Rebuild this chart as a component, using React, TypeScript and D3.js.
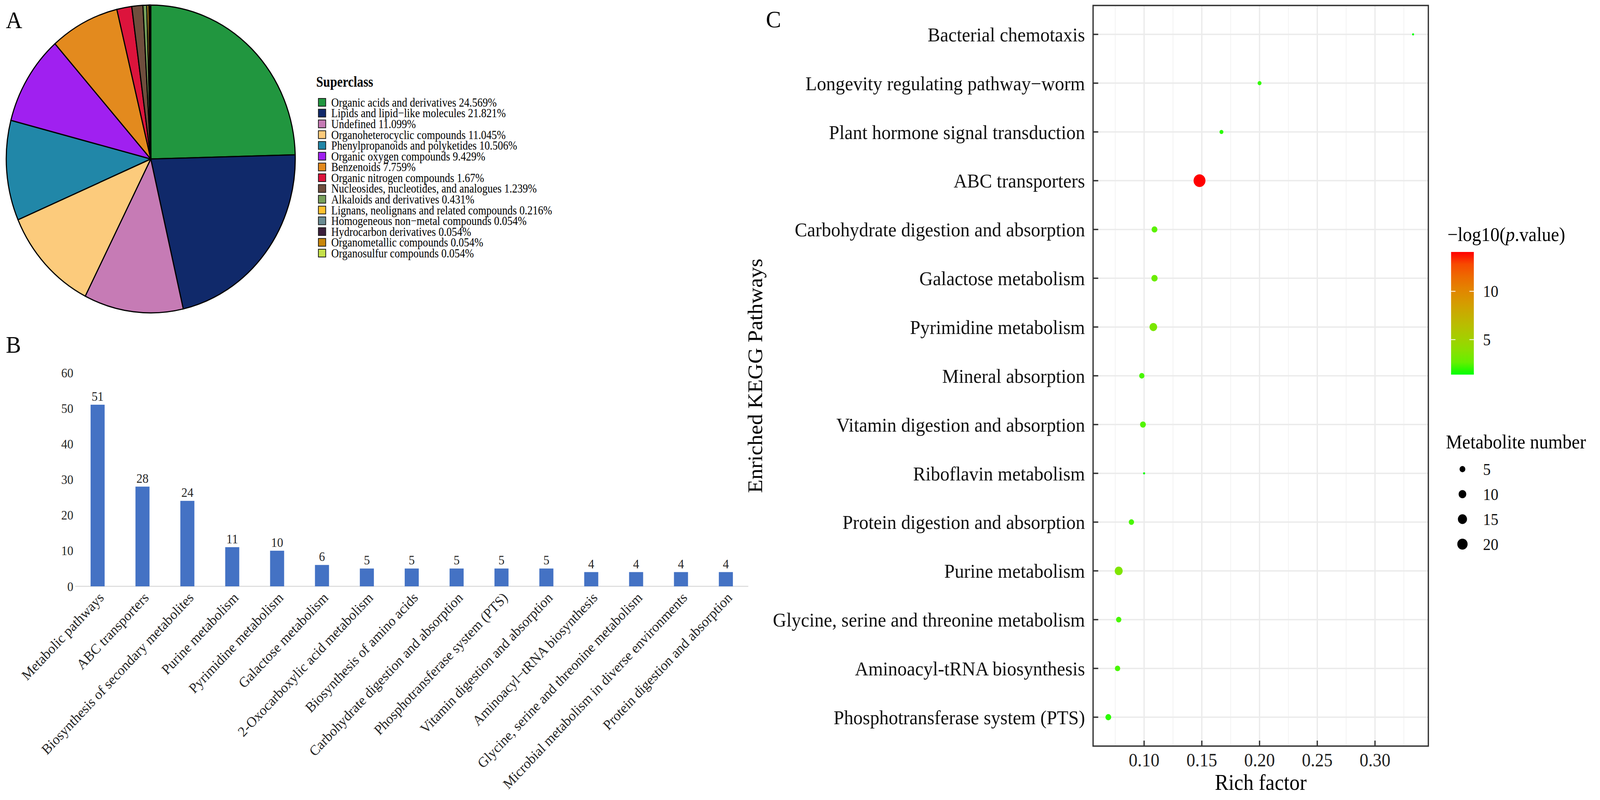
import React from 'react';
import * as d3 from 'd3';

const W = 4362;
const H = 2048;
const FONT = '"Liberation Serif", "Times New Roman", serif';

// ---- Panel A: superclass pie ----
const superclassNames = [
  'Organic acids and derivatives',
  'Lipids and lipid\u2212like molecules',
  'Undefined',
  'Organoheterocyclic compounds',
  'Phenylpropanoids and polyketides',
  'Organic oxygen compounds',
  'Benzenoids',
  'Organic nitrogen compounds',
  'Nucleosides, nucleotides, and analogues',
  'Alkaloids and derivatives',
  'Lignans, neolignans and related compounds',
  'Homogeneous non\u2212metal compounds',
  'Hydrocarbon derivatives',
  'Organometallic compounds',
  'Organosulfur compounds',
];
const superclassPct = [24.569, 21.821, 11.099, 11.045, 10.506, 9.429, 7.759, 1.67, 1.239, 0.431, 0.216, 0.054, 0.054, 0.054, 0.054];
const superclassColors = [
  '#21963F', '#10296A', '#C67BB5', '#FCCB7C', '#2187A8', '#A020F0', '#E38A1E', '#DC143C',
  '#6F4E3D', '#78A05A', '#FFC12E', '#6A8C93', '#3B1F3B', '#C8860A', '#C5E04A',
];

// ---- Panel B: KEGG pathway counts ----
const barPathways = [
  'Metabolic pathways',
  'ABC transporters',
  'Biosynthesis of secondary metabolites',
  'Purine metabolism',
  'Pyrimidine metabolism',
  'Galactose metabolism',
  '2-Oxocarboxylic acid metabolism',
  'Biosynthesis of amino acids',
  'Carbohydrate digestion and absorption',
  'Phosphotransferase system (PTS)',
  'Vitamin digestion and absorption',
  'Aminoacyl\u2212tRNA biosynthesis',
  'Glycine, serine and threonine metabolism',
  'Microbial metabolism in diverse environments',
  'Protein digestion and absorption',
];
const barCounts = [51, 28, 24, 11, 10, 6, 5, 5, 5, 5, 5, 4, 4, 4, 4];
const barTicks = [0, 10, 20, 30, 40, 50, 60];

// ---- Panel C: enrichment bubble plot (top to bottom) ----
const keggPathways = [
  'Bacterial chemotaxis',
  'Longevity regulating pathway\u2212worm',
  'Plant hormone signal transduction',
  'ABC transporters',
  'Carbohydrate digestion and absorption',
  'Galactose metabolism',
  'Pyrimidine metabolism',
  'Mineral absorption',
  'Vitamin digestion and absorption',
  'Riboflavin metabolism',
  'Protein digestion and absorption',
  'Purine metabolism',
  'Glycine, serine and threonine metabolism',
  'Aminoacyl-tRNA biosynthesis',
  'Phosphotransferase system (PTS)',
];
const richFactor = [0.333, 0.2, 0.167, 0.148, 0.109, 0.109, 0.108, 0.098, 0.099, 0.1, 0.089, 0.078, 0.078, 0.077, 0.069];
const metaboliteNumber = [1, 2, 2, 28, 5, 6, 10, 4, 5, 1, 4, 11, 4, 4, 5];
const negLog10P = [1.38, 1.7, 1.6, 14.07, 2.4, 2.8, 3.3, 2.0, 2.2, 1.4, 2.0, 3.5, 2.0, 2.0, 1.6];
const richTicks = [0.1, 0.15, 0.2, 0.25, 0.3];
const richMinorTicks = [0.075, 0.125, 0.175, 0.225, 0.275, 0.325];
const colorTicks = [5, 10];
const sizeTicks = [5, 10, 15, 20];

const PieLegend: React.FC = () => {
  const cx = 411, cy = 407, r = 394;
  const arcs = d3.pie<number>().sort(null).value(d => d)(superclassPct);
  const arc = d3.arc<d3.PieArcDatum<number>>().innerRadius(0).outerRadius(r);
  const rowY = d3.scalePoint<string>().domain(superclassNames).range([262, 648]);
  return (
    <g fontFamily={FONT}>
      <text x={16} y={72} fontSize={62}>A</text>
      <g transform={`translate(${cx},${cy})`}>
        {arcs.map((a, i) => (
          <path key={i} d={arc(a) || ''} fill={superclassColors[i]} stroke="#000" strokeWidth={3} strokeLinejoin="round" />
        ))}
      </g>
      <text transform="translate(862,222) scale(0.9,1)" fontSize={38} fontWeight="bold">Superclass</text>
      {superclassNames.map((name, i) => {
        const y = rowY(name) as number;
        return (
          <g key={name}>
            <rect x={868} y={y - 10} width={20} height={20} fill={superclassColors[i]} stroke="#1a1a1a" strokeWidth={2} />
            <text transform={`translate(903,${y}) scale(0.9,1)`} dy="0.34em" fontSize={32}>
              {`${name} ${superclassPct[i]}%`}
            </text>
          </g>
        );
      })}
    </g>
  );
};

const BarPanel: React.FC = () => {
  const x = d3.scaleBand<string>().domain(barPathways).range([205, 2040]).paddingInner(0.687).paddingOuter(0.343);
  const y = d3.scaleLinear().domain([0, 60]).range([1501, 954]);
  const fs = 33;
  return (
    <g fontFamily={FONT}>
      <text x={16} y={903} fontSize={62}>B</text>
      {barTicks.map(t => (
        <text key={t} x={200} y={y(t)} dy="0.35em" textAnchor="end" fontSize={fs} fill="#262626">{t}</text>
      ))}
      <line x1={205} x2={2040} y1={y(0)} y2={y(0)} stroke="#D9D9D9" strokeWidth={2.5} />
      {barPathways.map((p, i) => {
        const bx = x(p) as number;
        const cxm = bx + x.bandwidth() / 2;
        return (
          <g key={p}>
            <rect x={bx} y={y(barCounts[i])} width={x.bandwidth()} height={y(0) - y(barCounts[i])} fill="#4472C4" />
            <text x={cxm} y={y(barCounts[i]) - 10} textAnchor="middle" fontSize={fs} fill="#262626">{barCounts[i]}</text>
            <text
              transform={`translate(${cxm + 10},${y(0) + 22}) rotate(-45)`}
              textAnchor="end"
              dy="0.35em"
              fontSize={37}
              fill="#262626"
            >
              {p}
            </text>
          </g>
        );
      })}
    </g>
  );
};

const BubblePanel: React.FC = () => {
  const left = 2980, right = 3894, top = 14, bottom = 1910;
  const [rMin, rMax] = d3.extent(richFactor) as [number, number];
  const pad = (rMax - rMin) * 0.05;
  const x = d3.scaleLinear().domain([rMin - pad, rMax + pad]).range([left, right]);
  const y = d3.scalePoint<string>().domain(keggPathways).range([88, 1836]);
  const [nMin, nMax] = d3.extent(metaboliteNumber) as [number, number];
  const norm = d3.scaleLinear().domain([nMin, nMax]).range([0, 1]);
  const radius = d3.scaleLinear().domain([0, 1]).range([2.7, 16.2]);
  const rOf = (n: number) => radius(Math.sqrt(Math.max(0, norm(n))));
  const cExt = d3.extent(negLog10P) as [number, number];
  const color = d3.scaleLinear<string>().domain(cExt).range(['#00FF00', '#FF0000']).interpolate(d3.interpolateLab);

  // colour bar
  const cbX = 3956, cbW = 62, cbTop = 645, cbBottom = 959;
  const cbY = d3.scaleLinear().domain(cExt).range([cbBottom, cbTop]);
  const stops = d3.range(0, 1.0001, 0.1);

  // size legend
  const sizeY = d3.scalePoint<string>().domain(sizeTicks.map(String)).range([1201, 1393]);

  const order = d3.range(keggPathways.length).sort((a, b) => metaboliteNumber[b] - metaboliteNumber[a]);

  return (
    <g fontFamily={FONT}>
      <text x={2088} y={70} fontSize={62}>C</text>
      <defs>
        <linearGradient id="cbGrad" x1={0} y1={1} x2={0} y2={0}>
          {stops.map(s => (
            <stop key={s} offset={`${s * 100}%`} stopColor={color(cExt[0] + s * (cExt[1] - cExt[0]))} />
          ))}
        </linearGradient>
      </defs>
      <rect x={left} y={top} width={right - left} height={bottom - top} fill="#fff" />
      {richMinorTicks.map(t => (
        <line key={t} x1={x(t)} x2={x(t)} y1={top} y2={bottom} stroke="#F2F2F2" strokeWidth={2} />
      ))}
      {richTicks.map(t => (
        <line key={t} x1={x(t)} x2={x(t)} y1={top} y2={bottom} stroke="#EBEBEB" strokeWidth={3.5} />
      ))}
      {keggPathways.map(p => (
        <line key={p} x1={left} x2={right} y1={y(p)} y2={y(p)} stroke="#EBEBEB" strokeWidth={3.5} />
      ))}
      {order.map(i => (
        <circle key={i} cx={x(richFactor[i])} cy={y(keggPathways[i])} r={rOf(metaboliteNumber[i])} fill={color(negLog10P[i])} />
      ))}
      <rect x={left} y={top} width={right - left} height={bottom - top} fill="none" stroke="#333" strokeWidth={3.5} />
      {keggPathways.map(p => (
        <g key={p}>
          <line x1={left} x2={left + 14} y1={y(p)} y2={y(p)} stroke="#333" strokeWidth={3.5} />
          <text x={left - 22} y={y(p)} dy="0.35em" textAnchor="end" fontSize={51} fill="#111">{p}</text>
        </g>
      ))}
      {richTicks.map(t => (
        <g key={t}>
          <line x1={x(t)} x2={x(t)} y1={bottom} y2={bottom - 14} stroke="#333" strokeWidth={3.5} />
          <text x={x(t)} y={bottom + 52} textAnchor="middle" fontSize={48} fill="#222">{t.toFixed(2)}</text>
        </g>
      ))}
      <text x={(left + right) / 2} y={2022} textAnchor="middle" fontSize={56}>Rich factor</text>
      <text transform={`translate(2078,${(top + bottom) / 2}) rotate(-90)`} textAnchor="middle" fontSize={56}>
        Enriched KEGG Pathways
      </text>

      {/* colour legend */}
      <text x={3946} y={617} fontSize={50}>
        {'\u2212log10('}<tspan fontStyle="italic">p</tspan>{'.value)'}
      </text>
      <rect x={cbX} y={cbTop} width={cbW} height={cbBottom - cbTop} fill="url(#cbGrad)" />
      {colorTicks.map(t => (
        <g key={t}>
          <line x1={cbX} x2={cbX + 12} y1={cbY(t)} y2={cbY(t)} stroke="#fff" strokeWidth={2} />
          <line x1={cbX + cbW - 12} x2={cbX + cbW} y1={cbY(t)} y2={cbY(t)} stroke="#fff" strokeWidth={2} />
          <text x={4043} y={cbY(t)} dy="0.35em" fontSize={42} fill="#111">{t}</text>
        </g>
      ))}

      {/* size legend */}
      <text x={3942} y={1148} fontSize={50}>Metabolite number</text>
      {sizeTicks.map(t => (
        <g key={t}>
          <circle cx={3987} cy={sizeY(String(t)) as number} r={rOf(t)} fill="#000" />
          <text x={4043} y={sizeY(String(t)) as number} dy="0.35em" fontSize={42} fill="#111">{t}</text>
        </g>
      ))}
    </g>
  );
};

const App: React.FC = () => (
  <svg
    viewBox={`0 0 ${W} ${H}`}
    preserveAspectRatio="none"
    style={{ position: 'fixed', left: 0, top: 0, width: '100vw', height: '100vh', background: '#fff', display: 'block' }}
  >
    <rect width={W} height={H} fill="#fff" />
    <PieLegend />
    <BarPanel />
    <BubblePanel />
  </svg>
);

export default App;
